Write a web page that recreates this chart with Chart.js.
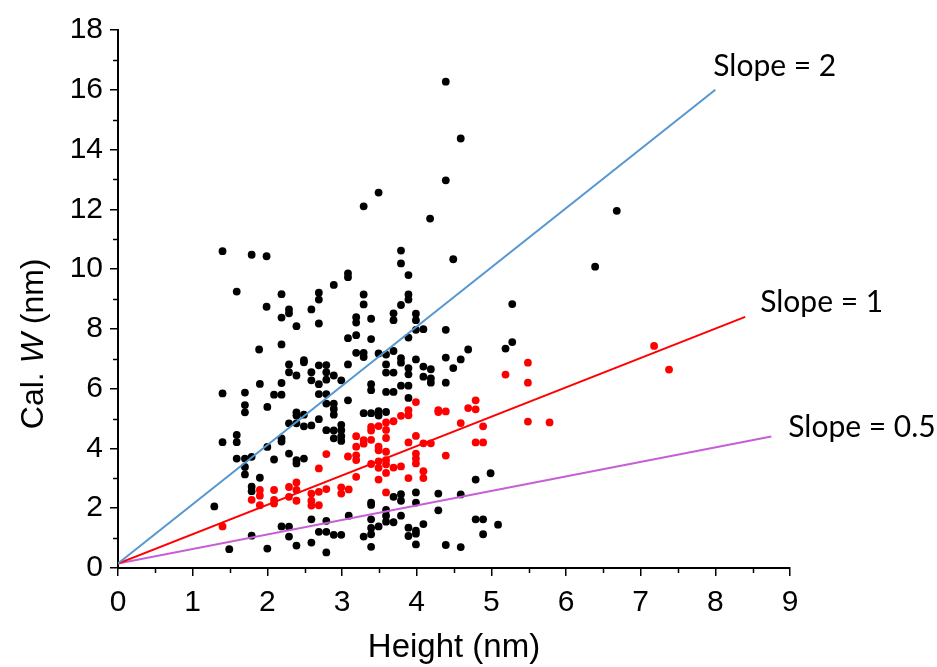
<!DOCTYPE html>
<html>
<head>
<meta charset="utf-8">
<script src="https://cdn.jsdelivr.net/npm/chart.js@4.4.1/dist/chart.umd.min.js"></script>
<style>
  html, body { margin: 0; padding: 0; background: #fff; }
  canvas { display: block; }
</style>
</head>
<body>
<canvas id="grafico" width="937" height="667"></canvas>
<script>
// Height x Cal. W, pontos pretos
const pontosPretos = [
  [1.4, 10.6], [1.79, 10.48], [1.99, 10.43], [1.59, 9.25], [2.19, 9.16], [2.69, 9.21], [2.69, 8.98],
  [2.89, 9.47], [3.08, 9.86], [3.08, 9.73], [1.99, 8.74], [2.29, 8.65], [2.29, 8.52], [2.19, 8.38],
  [2.59, 8.65], [2.39, 8.09], [2.69, 8.18], [3.08, 7.69], [1.89, 7.31], [2.19, 7.48], [2.49, 6.95],
  [4.39, 12.97], [3.49, 12.56], [3.29, 12.1], [4.18, 11.69], [3.79, 10.62], [3.79, 10.19], [4.49, 10.33],
  [3.89, 9.8], [3.29, 9.15], [3.29, 8.82], [3.89, 9.15], [3.89, 8.98], [3.79, 8.8], [3.19, 8.39],
  [3.19, 8.21], [3.39, 8.34], [3.69, 8.52], [3.69, 8.29], [3.99, 8.51], [3.99, 8.29], [3.99, 7.97],
  [4.09, 7.99], [4.39, 7.97], [3.19, 7.79], [3.39, 7.66], [3.89, 7.71], [3.19, 7.2], [3.29, 7.2],
  [3.29, 7.06], [3.49, 7.18], [3.59, 7.14], [3.69, 7.26], [3.79, 7.02], [3.99, 6.98], [4.39, 7.04],
  [4.59, 6.98], [4.69, 7.31],
  [4.39, 16.27], [4.59, 14.37], [6.68, 11.95], [6.39, 10.08], [5.28, 8.83], [5.28, 7.56], [5.19, 7.34],
  [2.29, 6.81], [2.29, 6.55], [2.49, 6.88], [2.39, 6.44], [2.59, 6.55], [2.59, 6.28], [2.69, 6.78],
  [2.69, 6.15], [2.79, 6.79], [2.79, 6.55], [2.79, 6.3], [2.89, 6.44], [3.08, 6.81], [2.99, 6.28],
  [2.69, 5.82], [2.79, 5.82], [2.79, 5.5], [2.89, 5.5], [2.89, 5.32], [2.89, 5.13], [3.08, 5.61],
  [1.4, 5.84], [1.7, 5.87], [1.7, 5.45], [1.7, 5.21], [1.9, 6.16], [2.0, 5.39], [2.09, 5.8],
  [2.19, 5.8], [2.19, 6.19], [2.39, 5.21], [2.39, 5.1], [2.49, 5.13], [2.29, 4.84], [2.39, 4.84],
  [2.49, 4.74], [2.59, 4.77], [2.69, 4.98], [2.79, 4.61], [2.89, 4.6], [2.89, 4.34], [2.99, 4.79],
  [2.99, 4.61], [2.99, 4.41], [2.99, 4.25], [1.4, 4.21], [1.59, 4.45], [1.59, 4.21], [1.59, 3.66],
  [1.7, 3.66], [1.7, 3.38], [1.7, 3.13], [1.79, 3.72], [1.79, 2.72], [1.79, 2.57], [1.9, 3.02],
  [2.0, 4.05], [2.09, 3.63], [2.19, 4.34], [2.19, 4.23], [2.29, 3.83], [2.39, 3.61], [2.39, 3.5],
  [2.49, 3.66], [1.29, 2.06], [1.49, 0.63], [1.79, 1.08], [2.0, 0.65], [2.19, 1.39], [2.29, 1.38],
  [2.29, 1.05], [2.39, 0.75], [2.59, 1.63], [2.59, 0.85], [2.69, 1.21], [2.79, 1.58], [2.79, 1.21],
  [2.79, 0.52], [2.89, 1.11], [2.99, 1.11],
  [3.79, 6.87], [4.49, 6.69], [3.59, 6.81], [3.59, 6.54], [3.69, 6.54], [3.89, 6.69], [3.89, 6.48],
  [4.09, 6.74], [4.19, 6.65], [4.19, 6.34], [4.19, 6.2], [4.09, 6.4], [4.39, 6.2], [3.79, 6.1],
  [3.89, 6.1], [3.39, 6.15], [3.39, 5.95], [3.59, 5.89], [3.69, 5.89], [3.89, 5.69], [3.29, 5.18],
  [3.39, 5.18], [3.49, 5.25], [3.49, 5.1], [3.59, 5.22], [4.79, 2.96], [4.99, 3.17], [3.69, 2.38],
  [3.79, 2.47], [3.79, 2.25], [3.99, 2.53], [3.99, 2.19], [4.29, 2.49], [4.59, 2.46], [4.29, 1.93],
  [3.09, 1.75], [3.39, 2.19], [3.39, 2.11], [3.59, 1.94], [3.59, 1.75], [3.59, 1.55], [3.69, 1.53],
  [3.79, 1.75], [3.39, 1.63], [3.39, 1.34], [3.39, 1.13], [3.49, 1.39], [3.29, 1.05], [3.39, 0.71],
  [3.89, 1.35], [3.89, 1.07], [3.99, 1.25], [3.99, 1.15], [4.09, 1.47], [3.99, 0.79], [4.39, 0.77],
  [4.59, 0.7], [4.79, 1.63], [4.89, 1.63], [4.89, 1.13], [5.09, 1.45],
];

// pontos vermelhos
const pontosVermelhos = [
  [1.4, 1.39], [1.79, 2.28], [1.9, 2.61], [1.9, 2.42], [1.9, 2.1], [2.09, 2.61], [2.09, 2.28],
  [2.09, 2.16], [2.29, 2.71], [2.29, 2.38], [2.39, 2.86], [2.39, 2.61], [2.39, 2.25], [2.59, 2.49],
  [2.59, 2.25], [2.59, 2.09], [2.69, 3.33], [2.69, 2.55], [2.69, 2.1], [2.79, 3.81], [2.79, 2.64],
  [2.99, 2.7], [2.99, 2.49], [3.08, 3.73],
  [3.99, 5.55], [3.89, 5.28], [3.89, 5.11], [3.79, 5.09], [3.69, 4.91], [3.59, 4.87], [3.59, 4.62],
  [3.49, 4.75], [3.39, 4.72], [3.39, 4.6], [3.59, 4.35], [4.29, 5.28], [4.29, 5.22], [4.39, 5.24],
  [4.69, 5.35], [4.79, 5.61], [4.79, 5.31], [5.19, 6.47], [4.59, 4.85], [4.89, 4.74], [4.79, 4.2],
  [4.89, 4.2], [3.19, 4.41], [3.29, 4.28], [3.29, 4.16], [3.39, 4.29], [3.19, 4.06], [3.49, 4.06],
  [3.49, 3.94], [3.59, 3.89], [3.89, 4.2], [3.99, 4.42], [4.09, 4.17], [4.19, 4.17], [3.99, 3.83],
  [3.99, 3.66], [3.99, 3.5], [4.39, 3.76], [3.19, 3.77], [3.19, 3.61], [3.39, 3.48], [3.49, 3.57],
  [3.49, 3.35], [3.59, 3.61], [3.59, 3.47], [3.59, 3.18], [3.69, 3.36], [3.79, 3.4], [4.09, 3.24],
  [4.09, 3.01], [3.89, 3.01], [3.49, 2.96], [3.19, 3.05], [3.09, 2.63], [3.59, 2.53],
  [5.49, 6.87], [5.49, 6.2], [5.49, 4.9], [5.78, 4.87], [7.18, 7.43], [7.38, 6.64],
];

// retas de referencia (inicio e fim)
const retaSlope2 = [[0, 0.15], [8, 16]];
const retaSlope1 = [[0, 0.15], [8.4, 8.4]];
const retaSlope05 = [[0, 0.15], [8.75, 4.4]];
const rotulosRetas = ["Slope = 2", "Slope = 1", "Slope = 0.5"];

// eixos
const ticksX = [0, 1, 2, 3, 4, 5, 6, 7, 8, 9];
const ticksY = [0, 2, 4, 6, 8, 10, 12, 14, 16, 18];
const ticksMenoresX = [0.5, 1.5, 2.5, 3.5, 4.5, 5.5, 6.5, 7.5, 8.5];
const ticksMenoresY = [1, 3, 5, 7, 9, 11, 13, 15, 17];

const paraPontos = (lista) => lista.map((p) => ({ x: p[0], y: p[1] }));

const corAzul = "#5596D2";
const corVermelha = "#FF0000";
const corRoxa = "#C65FD6";

// deslocamento dos rótulos em relação ao fim de cada reta
const rotulosConfig = [
  { reta: retaSlope2, dx: -2, dy: -23 },
  { reta: retaSlope1, dx: 15, dy: -15 },
  { reta: retaSlope05, dx: 17, dy: -9 },
];

const extras = {
  id: "extras",
  afterDraw(chart) {
    const ctx = chart.ctx;
    const sx = chart.scales.x;
    const sy = chart.scales.y;
    ctx.save();

    // ticks menores
    ctx.strokeStyle = "#000";
    ctx.lineWidth = 1.5;
    ticksMenoresX.forEach((v) => {
      const px = Math.round(sx.getPixelForValue(v)) + 0.5;
      ctx.beginPath();
      ctx.moveTo(px, sy.bottom);
      ctx.lineTo(px, sy.bottom + 5);
      ctx.stroke();
    });
    ticksMenoresY.forEach((v) => {
      const py = Math.round(sy.getPixelForValue(v)) + 0.5;
      ctx.beginPath();
      ctx.moveTo(sx.left, py);
      ctx.lineTo(sx.left - 5, py);
      ctx.stroke();
    });

    // título do eixo Y com W em itálico
    const partes = [
      { t: "Cal. ", f: "32px 'Liberation Sans'" },
      { t: "W", f: "italic 32px 'Liberation Sans'" },
      { t: " (nm)", f: "32px 'Liberation Sans'" },
    ];
    let total = 0;
    partes.forEach((p) => {
      ctx.font = p.f;
      p.w = ctx.measureText(p.t).width;
      total += p.w;
    });
    ctx.translate(34, sy.getPixelForValue(7.5));
    ctx.rotate(-Math.PI / 2);
    ctx.fillStyle = "#000";
    ctx.textBaseline = "middle";
    let pos = -total / 2;
    partes.forEach((p) => {
      ctx.font = p.f;
      ctx.fillText(p.t, pos, 0);
      pos += p.w;
    });
    ctx.setTransform(1, 0, 0, 1, 0, 0);

    // rótulos das retas
    ctx.font = "30px Lato";
    ctx.textBaseline = "middle";
    ctx.textAlign = "left";
    rotulosConfig.forEach((r, i) => {
      const fim = r.reta[1];
      const px = sx.getPixelForValue(fim[0]) + r.dx;
      const py = sy.getPixelForValue(fim[1]) + r.dy;
      ctx.fillText(rotulosRetas[i], px, py);
    });

    ctx.restore();
  },
};

const grafico = new Chart(document.getElementById("grafico"), {
  type: "scatter",
  data: {
    datasets: [
      {
        label: rotulosRetas[0],
        data: paraPontos(retaSlope2),
        showLine: true,
        borderColor: corAzul,
        borderWidth: 2,
        pointRadius: 0,
      },
      {
        label: rotulosRetas[1],
        data: paraPontos(retaSlope1),
        showLine: true,
        borderColor: corVermelha,
        borderWidth: 2,
        pointRadius: 0,
      },
      {
        label: rotulosRetas[2],
        data: paraPontos(retaSlope05),
        showLine: true,
        borderColor: corRoxa,
        borderWidth: 2,
        pointRadius: 0,
      },
      {
        label: "vermelhos",
        data: paraPontos(pontosVermelhos),
        backgroundColor: corVermelha,
        borderWidth: 0,
        pointRadius: 3.9,
      },
      {
        label: "pretos",
        data: paraPontos(pontosPretos),
        backgroundColor: "#000",
        borderWidth: 0,
        pointRadius: 3.9,
      },
    ],
  },
  options: {
    responsive: false,
    animation: false,
    layout: {
      padding: { left: 0, top: 30, right: 147, bottom: 0 },
    },
    plugins: {
      legend: { display: false },
      tooltip: { enabled: false },
    },
    scales: {
      x: {
        type: "linear",
        min: 0,
        max: 9,
        afterBuildTicks: (s) => {
          s.ticks = ticksX.map((v) => ({ value: v }));
        },
        afterFit: (s) => {
          s.height = 99;
        },
        ticks: {
          color: "#000",
          padding: 9,
          maxRotation: 0,
          font: { family: "'Liberation Sans'", size: 30 },
        },
        grid: {
          drawOnChartArea: false,
          tickLength: 8,
          color: "#000",
          lineWidth: 1.5,
        },
        border: { color: "#000", width: 2 },
        title: {
          display: true,
          text: "Height (nm)",
          color: "#000",
          padding: { top: 0, bottom: -1 },
          font: { family: "'Liberation Sans'", size: 33 },
        },
      },
      y: {
        type: "linear",
        min: 0,
        max: 18,
        afterBuildTicks: (s) => {
          s.ticks = ticksY.map((v) => ({ value: v }));
        },
        afterFit: (s) => {
          s.width = 118;
        },
        ticks: {
          color: "#000",
          padding: 7,
          font: { family: "'Liberation Sans'", size: 30 },
        },
        grid: {
          drawOnChartArea: false,
          tickLength: 8,
          color: "#000",
          lineWidth: 1.5,
        },
        border: { color: "#000", width: 2 },
      },
    },
  },
  plugins: [extras],
});
</script>
</body>
</html>
